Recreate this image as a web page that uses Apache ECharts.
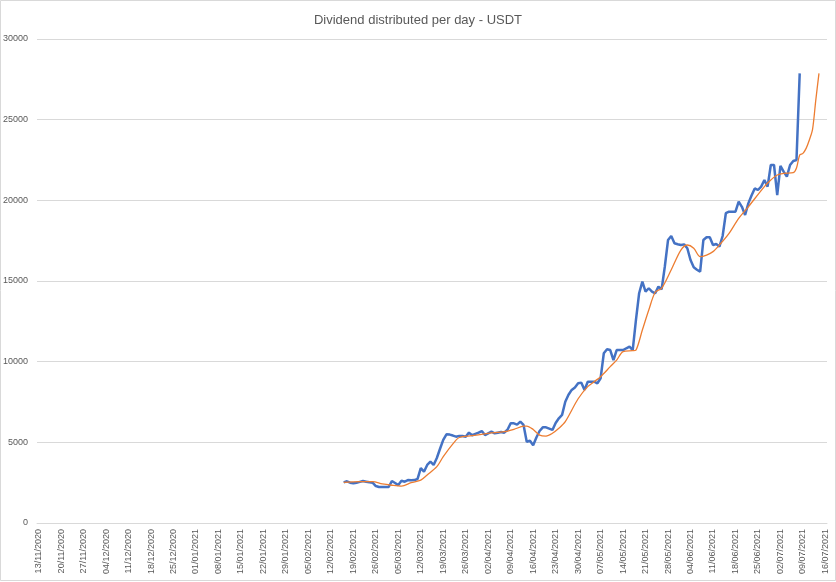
<!DOCTYPE html>
<html>
<head>
<meta charset="utf-8">
<script src="https://cdn.jsdelivr.net/npm/echarts@6/dist/echarts.min.js"></script>
<style>
  html, body { margin: 0; padding: 0; background: #fff; }
  #chart { width: 836px; height: 582px; }
</style>
</head>
<body>
<div id="chart"></div>
<script>
  // x axis: one category per day, labelled weekly
  const firstDay = [2020, 10, 13]   // 13/11/2020
  const dayCount = 246              // up to 16/07/2021
  const yTicks = [0, 5000, 10000, 15000, 20000, 25000, 30000]

  // daily dividend (blue), starting 16/02/2021
  const dailyStart = '16/02/2021'
  const dailyValues = [
    2520, 2585, 2500, 2460, 2500, 2550, 2600, 2560, 2520, 2500,
    2290, 2230, 2230, 2230, 2230, 2600, 2480, 2350, 2620, 2560,
    2660, 2650, 2660, 2730, 3400, 3180, 3600, 3800, 3600, 4030,
    4600, 5150, 5500, 5480, 5420, 5350, 5400, 5390, 5350, 5600,
    5440, 5520, 5600, 5700, 5450, 5560, 5660, 5560, 5600, 5640,
    5600, 5780, 6180, 6180, 6100, 6280, 6075, 5040, 5100, 4820,
    5300, 5700, 5930, 5930, 5850, 5770, 6200, 6490, 6700, 7520,
    7950, 8250, 8400, 8660, 8700, 8250, 8760, 8760, 8760, 8660,
    8970, 10520, 10770, 10720, 10100, 10720, 10720, 10720, 10830, 10930,
    10720, 12580, 14240, 14960, 14340, 14550, 14340, 14240, 14650, 14480,
    15900, 17540, 17790, 17340, 17280, 17230, 17270, 17030, 16300, 15850,
    15700, 15580, 17540, 17710, 17710, 17230, 17290, 17130, 17790, 19200,
    19300, 19300, 19300, 19920, 19600, 19090, 19810, 20300, 20740, 20640,
    20850, 21260, 20850, 22190, 22190, 20330, 22130, 21780, 21470, 22190,
    22440, 22500, 27870
  ]

  // trend line (orange), read at these dates
  const trendDays = [
    '16/02/2021', '21/02/2021', '25/02/2021', '28/02/2021', '03/03/2021',
    '06/03/2021', '09/03/2021', '12/03/2021', '14/03/2021', '17/03/2021',
    '19/03/2021', '22/03/2021', '24/03/2021', '28/03/2021', '02/04/2021',
    '07/04/2021', '10/04/2021', '13/04/2021', '14/04/2021', '16/04/2021',
    '18/04/2021', '20/04/2021', '22/04/2021', '24/04/2021', '26/04/2021',
    '30/04/2021', '03/05/2021', '05/05/2021', '07/05/2021', '10/05/2021',
    '12/05/2021', '14/05/2021', '17/05/2021', '18/05/2021', '20/05/2021',
    '22/05/2021', '24/05/2021', '26/05/2021', '29/05/2021', '01/06/2021',
    '03/06/2021', '05/06/2021', '07/06/2021', '09/06/2021', '11/06/2021',
    '13/06/2021', '16/06/2021', '19/06/2021', '22/06/2021', '27/06/2021',
    '29/06/2021', '01/07/2021', '03/07/2021', '06/07/2021', '07/07/2021',
    '08/07/2021', '09/07/2021', '10/07/2021', '11/07/2021', '12/07/2021',
    '13/07/2021', '14/07/2021'
  ]
  const trendValues = [
    2520, 2560, 2560, 2420, 2340,
    2290, 2500, 2660, 2980, 3490,
    4110, 4900, 5300, 5410, 5560,
    5660, 5810, 6000, 6010, 5800,
    5450, 5390, 5560, 5870, 6280,
    7700, 8450, 8760, 9070, 9690,
    10100, 10620, 10680, 10720, 11960,
    13200, 14300, 14550, 15700, 16920,
    17230, 17030, 16510, 16610, 16820,
    17230, 17950, 18880, 19600, 20850,
    21260, 21570, 21670, 21710, 22000,
    22810, 22910, 23220, 23740, 24400,
    26200, 27870
  ]

  const pad = n => (n < 10 ? '0' : '') + n
  const categories = []
  for (let i = 0; i < dayCount; i++) {
    const d = new Date(Date.UTC(firstDay[0], firstDay[1], firstDay[2] + i))
    categories.push(pad(d.getUTCDate()) + '/' + pad(d.getUTCMonth() + 1) + '/' + d.getUTCFullYear())
  }

  const startIdx = categories.indexOf(dailyStart)
  const dailyData = dailyValues.map((v, i) => [categories[startIdx + i], v])
  const trendData = trendDays.map((d, i) => [d, trendValues[i]])

  const chart = echarts.init(document.getElementById('chart'))
  const option = {
    animation: false,
    backgroundColor: '#fff',
    textStyle: { fontFamily: 'Liberation Sans, Arial, sans-serif' },
    title: {
      text: 'Dividend distributed per day - USDT',
      left: 'center',
      top: 9,
      textStyle: { color: '#595959', fontSize: 13, fontWeight: 'normal', fontFamily: 'Liberation Sans, Arial, sans-serif' }
    },
    grid: { left: 37, right: 9, top: 39, bottom: 59 },
    xAxis: {
      type: 'category',
      data: categories,
      boundaryGap: true,
      axisLine: { lineStyle: { color: '#d9d9d9' } },
      axisTick: { show: false },
      axisLabel: {
        interval: 6,
        rotate: 90,
        margin: 6,
        color: '#595959',
        fontSize: 9
      }
    },
    yAxis: {
      type: 'value',
      min: yTicks[0],
      max: yTicks[yTicks.length - 1],
      interval: yTicks[1] - yTicks[0],
      axisLine: { show: false },
      axisTick: { show: false },
      splitLine: { lineStyle: { color: '#d9d9d9' } },
      axisLabel: { color: '#595959', fontSize: 9, margin: 9, formatter: v => String(v) }
    },
    series: [
      {
        name: 'Daily',
        type: 'line',
        data: dailyData,
        showSymbol: false,
        lineStyle: { color: '#4472c4', width: 2.5 },
        itemStyle: { color: '#4472c4' }
      },
      {
        name: 'Trend',
        type: 'line',
        data: trendData,
        showSymbol: false,
        smooth: 0.3,
        lineStyle: { color: '#ed7d31', width: 1.3 },
        itemStyle: { color: '#ed7d31' }
      }
    ],
    graphic: [{
      type: 'rect',
      shape: { x: 0.5, y: 0.5, width: 835, height: 580 },
      style: { fill: null, stroke: '#d9d9d9', lineWidth: 1 },
      silent: true
    }]
  }
  chart.setOption(option)
</script>
</body>
</html>
